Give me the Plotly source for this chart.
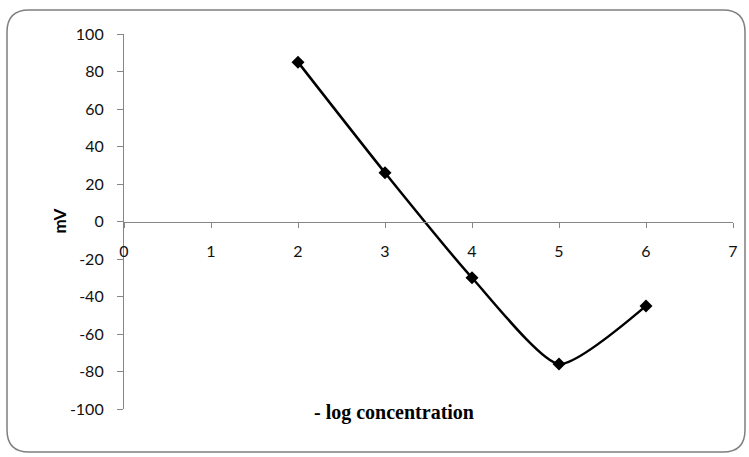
import plotly.graph_objects as go

x_vals = [2, 3, 4, 5, 6]
mv_vals = [85, 26, -30, -76, -45]
x_ticks = [0, 1, 2, 3, 4, 5, 6, 7]
y_ticks = [-100, -80, -60, -40, -20, 0, 20, 40, 60, 80, 100]
y_tick_text = [str(v) for v in y_ticks]

W, H = 749, 457
L, R, T, B = 124, 16, 34, 48
pw, ph = W - L - R, H - T - B

fig = go.Figure()
fig.add_trace(go.Scatter(
    x=x_vals, y=mv_vals, mode="lines+markers",
    line=dict(color="black", width=2.5, shape="spline", smoothing=0.6),
    marker=dict(symbol="diamond", size=10, color="black"),
    showlegend=False,
))

tickfont = dict(family="Lato, 'Open Sans', sans-serif", size=16, color="#111")
fig.update_layout(
    width=W, height=H,
    margin=dict(l=L, r=R, t=T, b=B),
    paper_bgcolor="white", plot_bgcolor="white",
    xaxis=dict(range=[0, 7], tickvals=x_ticks, showgrid=False, zeroline=False,
               anchor="free", position=0.5, showline=True, linecolor="#868686",
               linewidth=1.2, ticks="outside", ticklen=5, tickcolor="#868686",
               tickfont=tickfont, ticklabelstandoff=10),
    yaxis=dict(range=[-100, 100], tickvals=y_ticks, ticktext=y_tick_text,
               showgrid=False, zeroline=False,
               showline=True, linecolor="#868686", linewidth=1.2, ticks="outside",
               ticklen=6, tickcolor="#868686", tickfont=tickfont, ticklabelstandoff=10),
)

# rounded chart border
def px(xp):
    return (xp - L) / pw
def py(yp):
    return (H - B - yp) / ph
x0, x1, y0, y1, r = 7, 745, 10, 452, 22
path = (f"M {px(x0+r)},{py(y0)} L {px(x1-r)},{py(y0)} Q {px(x1)},{py(y0)} {px(x1)},{py(y0+r)} "
        f"L {px(x1)},{py(y1-r)} Q {px(x1)},{py(y1)} {px(x1-r)},{py(y1)} "
        f"L {px(x0+r)},{py(y1)} Q {px(x0)},{py(y1)} {px(x0)},{py(y1-r)} "
        f"L {px(x0)},{py(y0+r)} Q {px(x0)},{py(y0)} {px(x0+r)},{py(y0)} Z")
fig.add_shape(type="path", path=path, xref="paper", yref="paper",
              line=dict(color="#7f7f7f", width=1.5), layer="below")

fig.add_annotation(text="<b>mV</b>", xref="paper", yref="paper",
                   x=px(46), y=py(221), textangle=-90, showarrow=False,
                   font=dict(family="Lato, sans-serif", size=17, color="black"))
fig.add_annotation(text="<b>- log concentration</b>", xref="paper", yref="paper",
                   x=px(394), y=py(426), showarrow=False,
                   font=dict(family="Times New Roman, Liberation Serif, DejaVu Serif, serif",
                             size=20, color="black"))

fig.write_html("out.html")
